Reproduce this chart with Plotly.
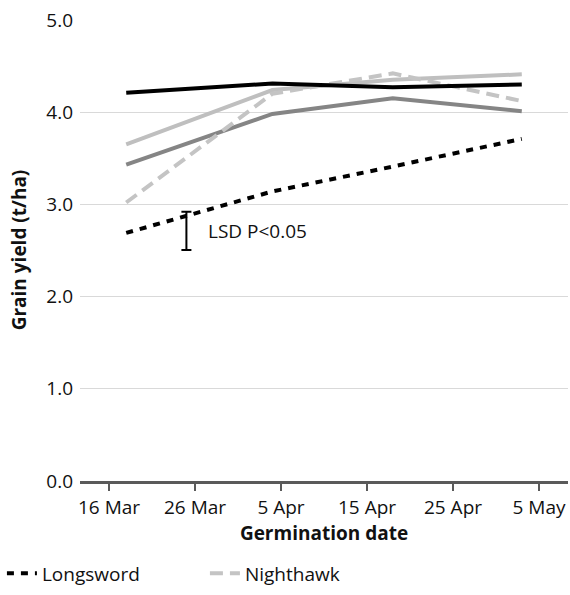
import plotly.graph_objects as go

# ---- data ----
dates = ["2021-03-18", "2021-04-04", "2021-04-18", "2021-05-03"]
longsword = [2.69, 3.14, 3.41, 3.71]
nighthawk = [3.02, 4.20, 4.42, 4.12]
series_black = [4.21, 4.31, 4.27, 4.30]
series_light = [3.65, 4.24, 4.35, 4.41]
series_dark = [3.43, 3.98, 4.15, 4.01]

tick_dates = ["2021-03-16", "2021-03-26", "2021-04-05", "2021-04-15", "2021-04-25", "2021-05-05"]
y_ticks = [0, 1, 2, 3, 4, 5]

lsd_date = ["2021-03-25"]
lsd_low = 2.505
lsd_high = 2.92
lsd_label = "LSD P&lt;0.05"

FONT = "Open Sans"
fig = go.Figure()

fig.add_trace(go.Scatter(x=dates, y=series_dark, mode="lines", name="Series 3",
                         line=dict(color="#858585", width=4), showlegend=False))
fig.add_trace(go.Scatter(x=dates, y=series_light, mode="lines", name="Series 4",
                         line=dict(color="#bfbfbf", width=4), showlegend=False))
fig.add_trace(go.Scatter(x=dates, y=nighthawk, mode="lines", name="Nighthawk",
                         line=dict(color="#c4c4c4", width=4, dash="13px,7px"), legendrank=2))
fig.add_trace(go.Scatter(x=dates, y=series_black, mode="lines", name="Series 5",
                         line=dict(color="#000000", width=4), showlegend=False))
fig.add_trace(go.Scatter(x=dates, y=longsword, mode="lines", name="Longsword",
                         line=dict(color="#000000", width=4, dash="7px,7px"), legendrank=1))

mid = (lsd_low + lsd_high) / 2
half = (lsd_high - lsd_low) / 2
fig.add_trace(go.Scatter(x=lsd_date, y=[mid], mode="markers", showlegend=False,
                         marker=dict(size=1, color="rgba(0,0,0,0)"),
                         error_y=dict(type="data", array=[half], symmetric=True,
                                      color="#000000", thickness=2, width=5)))
fig.add_annotation(x=lsd_date[0], y=mid, text=lsd_label, showarrow=False,
                   xanchor="left", yanchor="middle", xshift=20,
                   font=dict(family=FONT, size=19, color="#111111"))

fig.update_layout(
    width=570, height=595,
    margin=dict(l=80, r=2, t=19, b=106),
    plot_bgcolor="white", paper_bgcolor="white",
    font=dict(family=FONT, size=19, color="#111111"),
    showlegend=True,
    legend=dict(orientation="h", x=-0.16, xanchor="left", y=-0.2, yanchor="middle",
                entrywidth=158, entrywidthmode="pixels",
                font=dict(family=FONT, size=19, color="#111111"),
                bgcolor="rgba(0,0,0,0)"),
)
fig.update_xaxes(
    type="date",
    range=["2021-03-12 15:00", "2021-05-08 09:00"],
    tickvals=tick_dates, tickformat="%-d %b",
    showgrid=False, zeroline=False,
    showline=True, linecolor="#5a5a5a", linewidth=2.5,
    ticks="outside", ticklen=7, tickwidth=2, tickcolor="#5a5a5a",
    tickfont=dict(family=FONT, size=19, color="#111111"),
    title=dict(text="Germination date", standoff=9,
               font=dict(family=FONT, size=19, color="#111111", weight="bold")),
)
fig.update_yaxes(
    range=[0, 5.01], tickvals=y_ticks, tickformat=".1f",
    showgrid=True, gridcolor="#d9d9d9", gridwidth=1.2,
    zeroline=False, showline=False, ticks="",
    ticklabelstandoff=6,
    tickfont=dict(family=FONT, size=19, color="#111111"),
    title=dict(text="Grain yield (t/ha)", standoff=14,
               font=dict(family=FONT, size=19, color="#111111", weight="bold")),
)

fig.write_html("out.html")
